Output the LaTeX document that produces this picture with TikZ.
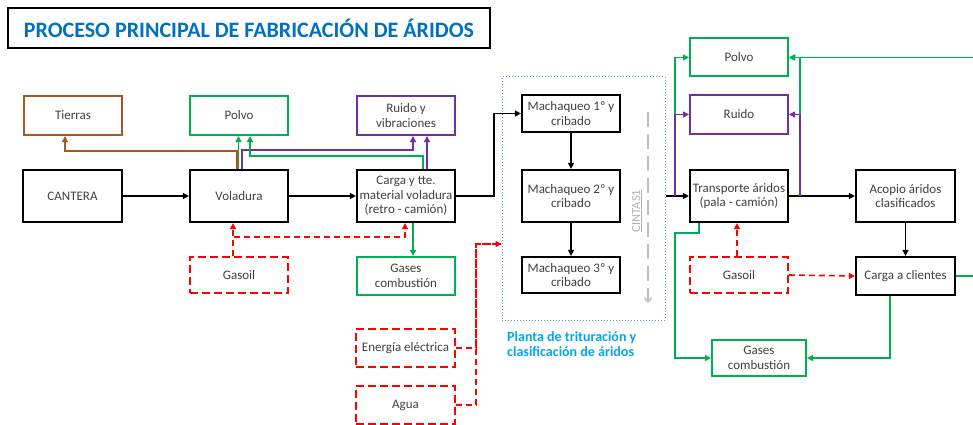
\documentclass[tikz,border=0pt]{standalone}
\usepackage{fontspec}
\setmainfont{Carlito}
\usetikzlibrary{arrows.meta}
\definecolor{cgreen}{RGB}{0,176,80}
\definecolor{cpurple}{RGB}{112,48,160}
\definecolor{cbrown}{RGB}{165,88,32}
\definecolor{cred}{RGB}{255,0,0}
\definecolor{ctitle}{RGB}{0,112,192}
\definecolor{clight}{RGB}{0,166,235}
\definecolor{cdot}{RGB}{91,155,213}
\definecolor{ctext}{RGB}{64,64,64}
\begin{document}
\begin{tikzpicture}[x=1pt,y=-1pt,
  box/.style={draw, rectangle, align=center, inner sep=1pt, text=ctext,
    font=\fontsize{13}{14.5}\selectfont, minimum width=98pt},
  blk/.style={box, draw=black, line width=2.2pt},
  grn/.style={box, draw=cgreen, line width=2pt},
  pur/.style={box, draw=cpurple, line width=2pt},
  brn/.style={box, draw=cbrown, line width=2pt},
  rdb/.style={box, draw=cred, line width=1.8pt, dash pattern=on 8pt off 4pt},
  arr/.style={-{Triangle[length=6pt,width=6pt]}, line width=1.4pt},
  ka/.style={arr, draw=black},
  ga/.style={arr, draw=cgreen},
  pa/.style={arr, draw=cpurple},
  ba/.style={arr, draw=cbrown},
  ra/.style={arr, draw=cred, dash pattern=on 6pt off 4pt, line width=1.6pt},
  rl/.style={draw=cred, dash pattern=on 6pt off 4pt, line width=1.6pt}]
\useasboundingbox (0,0) rectangle (973,425);
% title
\node[draw=black, line width=2pt, minimum width=482pt, minimum height=40pt,
  font=\fontsize{22}{24}\selectfont\bfseries, text=ctitle] (title) at (249,28)
  {PROCESO PRINCIPAL DE FABRICACIÓN DE ÁRIDOS};
% left column boxes
\node[brn, minimum height=39pt] (tierras) at (73,115.5) {Tierras};
\node[grn, minimum height=39pt] (polvoA) at (239,115.5) {Polvo};
\node[pur, minimum height=39pt] (ruidoA) at (406,115.5) {Ruido y\\vibraciones};
\node[blk, minimum height=52pt, minimum width=99pt] (cantera) at (72.5,196) {CANTERA};
\node[blk, minimum height=52pt] (voladura) at (239,196) {Voladura};
\node[blk, minimum height=52pt] (carga) at (406,196) {Carga y tte.\\material voladura\\(retro - camión)};
\node[rdb, minimum height=36pt] (gasoilA) at (239,275) {Gasoil};
\node[grn, minimum height=38pt] (gasesA) at (406,276) {Gases\\combustión};
\node[rdb, minimum height=38pt, minimum width=99pt] (energia) at (405.5,348) {Energía eléctrica};
\node[rdb, minimum height=38pt, minimum width=99pt] (agua) at (405.5,405) {Agua};
% plant
\node[draw=cdot, dotted, line width=1pt, minimum width=163pt, minimum height=243pt, inner sep=0pt] (planta) at (583.5,198.5) {};
\node[blk, minimum height=37pt] (maq1) at (571,113.5) {Machaqueo 1º y\\cribado};
\node[blk, minimum height=52pt] (maq2) at (571,196) {Machaqueo 2º y\\cribado};
\node[blk, minimum height=36pt] (maq3) at (571,275) {Machaqueo 3º y\\cribado};
\node[rotate=90, text=black!30, font=\fontsize{12.5}{14}\selectfont] (cintas) at (637,211) {\underline{CINTAS1}};
\coordinate (c1) at (648,112);
\coordinate (c2) at (648,303);
\draw[black!25, line width=1.5pt, dash pattern=on 15pt off 7pt, -{Straight Barb[length=4pt,width=7pt]}] (c1) -- (c2);
\node[anchor=north west, align=left, text=clight, inner sep=0pt,
  font=\fontsize{14}{15}\selectfont\bfseries] (plabel) at (507,331)
  {Planta de trituración y\\clasificación de áridos};
% right boxes
\node[grn, minimum height=38pt] (polvoB) at (739,57.5) {Polvo};
\node[pur, minimum height=39pt] (ruidoB) at (739,114.5) {Ruido};
\node[blk, minimum height=52pt] (transp) at (739,196) {Transporte áridos\\(pala - camión)};
\node[blk, minimum height=52pt, minimum width=99pt] (acopio) at (905.5,196) {Acopio áridos\\clasificados};
\node[rdb, minimum height=36pt] (gasoilB) at (739,275) {Gasoil};
\node[blk, minimum height=38pt, minimum width=99pt] (clientes) at (905.5,276) {Carga a clientes};
\node[grn, minimum height=36pt, minimum width=94pt] (gasesB) at (759,358) {Gases\\combustión};
% left connectors
\draw[ka] (cantera) -- (voladura);
\draw[ka] (voladura) -- (carga);
\draw[ba] ([xshift=-2pt]voladura.north) -- ++(0,-18) -| ([xshift=-8pt]tierras.south);
\draw[pa] ([xshift=3pt]voladura.north) -- ++(0,-19) -| ([xshift=7pt]ruidoA.south);
\draw[ga] ([xshift=-0.5pt]voladura.north) -- ([xshift=-0.5pt]polvoA.south);
\draw[ga] ([xshift=17pt]carga.north) -- ++(0,-13) -| ([xshift=11pt]polvoA.south);
\draw[pa] ([xshift=21pt]carga.north) -- ([xshift=21pt]ruidoA.south);
\draw[ga] ([xshift=7pt]carga.south) -- ([xshift=7pt]gasesA.north);
\draw[ra] ([xshift=-6pt]gasoilA.north) -- ([xshift=-6pt]voladura.south);
\draw[ra] ([xshift=-6pt]gasoilA.north) -- ++(0,-19) -| ([xshift=-1pt]carga.south);
\draw[rl] (agua.east) -- ++(20,0) |- ([yshift=-45.5pt]planta.west);
\draw[ra] (energia.east) -- ++(20,0) |- ([yshift=-45.5pt]planta.west);
\draw[ka] (carga.east) -- ++(38,0) |- (maq1.west);
\draw[ka] (maq1) -- (maq2);
\draw[ka] (maq2) -- (maq3);
% right connectors
\coordinate (jn) at (675,196);
\coordinate (jr) at (800,196);
\coordinate (fr) at (990,276);
\draw[line width=1.4pt] (planta.east |- transp.west) -- (jn);
\draw[ka] (jn) -- (transp.west);
\draw[ga] (ruidoB.west -| jn) |- (polvoB.west);
\draw[pa] (jn) |- (ruidoB.west);
\draw[ka] (transp.east) -- (acopio.west);
\draw[ga] (ruidoB.east -| jr) |- (polvoB.east);
\draw[pa] (jr) |- (ruidoB.east);
\draw[ga] (clientes.east) -- (fr) |- (polvoB.east);
\draw[ka] (acopio) -- (clientes);
\draw[ra] ([xshift=-2pt]gasoilB.north) -- ([xshift=-2pt]transp.south);
\draw[ra] (gasoilB.east) -- (clientes.west);
\draw[ga] ([xshift=-40pt]transp.south) -- ++(0,10) -- ++(-24,0) |- (gasesB.west);
\draw[ga] ([xshift=-15.5pt]clientes.south) |- (gasesB.east);
\end{tikzpicture}
\end{document}
